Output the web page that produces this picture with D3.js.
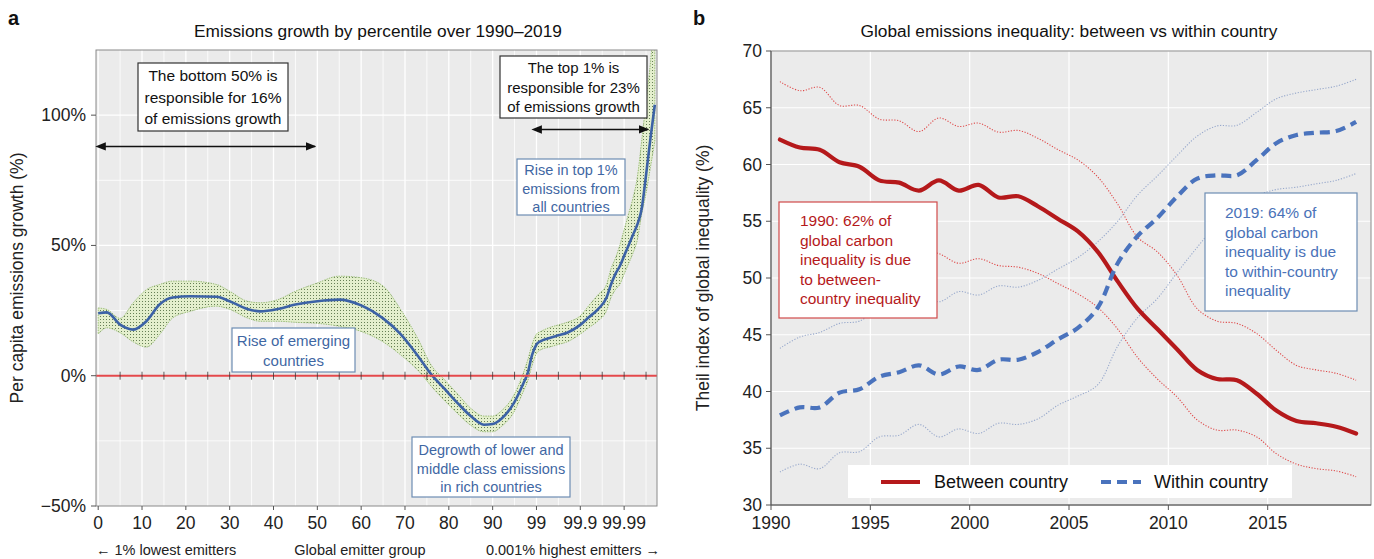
<!DOCTYPE html>
<html><head><meta charset="utf-8">
<script src="https://cdn.jsdelivr.net/npm/d3@7"></script>
<style>
body{margin:0;background:#fff;}
text{font-family:"Liberation Sans",Arial,sans-serif;}
</style></head>
<body><svg id="chart" width="1374" height="559"></svg>
<script>
// ---------- Panel a data ----------
const pctIndex   = [0,2,5,8,11,14,17,21,27,30,34,37,41,45,50,55,60,65,69,73,76,79,82,85,88,90,92,95,97,98,99,100,101,103,105,107,110,112,114,116,117,118,119,120,121,122,123,124,125,126,127];
const growth     = [24,24.3,19.6,17.7,20.9,27.3,30,30.5,30.3,28.6,25.6,24.7,25.6,27.3,28.6,29.2,27,22,16,7.5,0.5,-5,-10.5,-15.5,-18.8,-18.5,-16.5,-10,-3,1,8,12,13.3,14.5,15.5,16.5,19.5,22.5,25.5,30,35,39,42,46,50,54,58,64,77,91,104];
const growthHigh = [26,25.4,22,28,33,35,36.3,36.3,35,32.4,28.6,28,29.2,32.4,35.6,38.2,37.6,34.4,25.4,14,4,-1.5,-7,-12.5,-15.5,-15.5,-13.5,-7,1,6,12,16,17,18.5,19.5,20.5,23,27,31,35,41,45,50,56,62,68,76,90,105,120,140];
const growthLow  = [16,18.4,16.5,13,11,15.8,22.2,24.7,26.7,25.5,22.2,20.9,20.9,20.5,20.1,19,17,13,8,2,-4,-9.5,-14.5,-19,-21.5,-21.5,-19.5,-13.5,-6,-2,4,8.5,10,11,12,13,16,18.5,21,25,30,33,35,39,43,47,52,62,70,80,90];
const xTickIndex  = [0,10,20,30,40,50,60,70,80,90,100,110,120];
const xTickLabels = ["0","10","20","30","40","50","60","70","80","90","99","99.9","99.99"];
const yTicksA = [100,50,0,-50];

// ---------- Panel b data ----------
const years = d3.range(1990, 2020);
const betweenCountry = [62.2,61.5,61.3,60.2,59.8,58.6,58.4,57.7,58.6,57.7,58.2,57.1,57.2,56.3,55.2,54.1,52.3,49.7,47.3,45.5,43.7,41.9,41.1,41.0,39.8,38.3,37.4,37.2,36.9,36.3];
const betweenHigh    = [67.3,66.5,66.8,65.2,65.2,64.0,63.85,62.9,64.1,63.35,63.65,62.85,63.0,62.3,61.3,60.4,58.9,56.5,53.6,52.3,50.2,47.3,46.2,46.0,45.1,43.6,42.3,41.9,41.6,41.0];
const betweenLow     = [56.3,55.9,55.5,55.0,54.4,53.2,52.9,52.5,52.15,51.3,51.7,51.1,50.95,50.4,49.5,48.6,47.4,45.5,43.0,41.1,39.5,37.5,36.6,36.6,36.0,34.5,33.6,33.2,33.0,32.5];
const withinCountry  = [37.9,38.6,38.6,39.9,40.2,41.3,41.7,42.3,41.5,42.2,41.9,42.8,42.8,43.5,44.6,45.6,47.4,51.3,53.7,55.3,57.2,58.75,59.05,59.05,60.4,61.9,62.6,62.8,62.95,63.75];
const withinHigh     = [43.8,44.8,45.2,46.0,46.2,47.4,48.0,48.6,47.9,48.8,48.5,49.3,49.2,49.8,50.8,51.8,53.2,55.0,57.3,59.0,60.8,62.5,63.4,63.45,64.6,65.8,66.3,66.6,66.9,67.5];
const withinLow      = [32.9,33.6,33.2,34.6,34.7,36.0,36.15,37.1,36.0,36.7,36.3,37.2,37.1,37.6,38.8,39.6,40.6,44.0,46.5,48.2,50.5,52.7,54.8,56.7,57.3,57.8,58.0,58.3,58.6,59.2];
const yTicksB = [30,35,40,45,50,55,60,65,70];
const xTicksB = [1990,1995,2000,2005,2010,2015];

const svg = d3.select("#chart");
const defs = svg.append("defs");

// dotted pattern for the band
const pat = defs.append("pattern").attr("id","dots").attr("width",3).attr("height",3).attr("patternUnits","userSpaceOnUse");
pat.append("rect").attr("width",3).attr("height",3).attr("fill","#e4efcd");
pat.append("rect").attr("x",1).attr("y",1).attr("width",1).attr("height",1).attr("fill","#667f56");

// arrowheads
["s","e"].forEach(k=>{
  defs.append("marker").attr("id","arr"+k).attr("viewBox","0 0 10 10").attr("refX",k==="e"?9:1).attr("refY",5)
    .attr("markerWidth",7).attr("markerHeight",7).attr("orient",k==="e"?"auto":"auto-start-reverse")
    .append("path").attr("d","M0,1 L10,5 L0,9 Z").attr("fill","#111");
});

// ================= PANEL A =================
const xA = d3.scaleLinear().domain([-0.5,127.5]).range([96,657]);
const yA = d3.scaleLinear().domain([-50,125]).range([506,50]);
const gA = svg.append("g");

defs.append("clipPath").attr("id","clipA").append("rect")
  .attr("x",xA.range()[0]).attr("y",yA.range()[1]).attr("width",xA.range()[1]-xA.range()[0]).attr("height",yA.range()[0]-yA.range()[1]);

gA.append("rect").attr("x",96).attr("y",50).attr("width",561).attr("height",456).attr("fill","#ebebeb");
// grid
d3.range(0,128,5).forEach(v=>{
  gA.append("line").attr("x1",xA(v)).attr("x2",xA(v)).attr("y1",50).attr("y2",506)
    .attr("stroke","#fff").attr("stroke-width",v%10===0?1.3:0.8);
});
[-25,25,75,100,50,0].forEach(v=>{
  gA.append("line").attr("x1",96).attr("x2",657).attr("y1",yA(v)).attr("y2",yA(v))
    .attr("stroke","#fff").attr("stroke-width",[100,50,0].includes(v)?1.3:0.8);
});

const ptsA = pctIndex.map((d,i)=>({x:d,y:growth[i],lo:growthLow[i],hi:growthHigh[i]}));
const plotA = gA.append("g").attr("clip-path","url(#clipA)");
plotA.append("path").datum(ptsA)
  .attr("d",d3.area().x(d=>xA(d.x)).y0(d=>yA(d.lo)).y1(d=>yA(d.hi)).curve(d3.curveMonotoneX))
  .attr("fill","url(#dots)").attr("stroke","#93b86c").attr("stroke-width",0.9).attr("stroke-dasharray","1.5,1");

// zero line
gA.append("line").attr("x1",96).attr("x2",657).attr("y1",yA(0)).attr("y2",yA(0)).attr("stroke","#e4484b").attr("stroke-width",2);
d3.range(5,127,5).forEach(v=>{
  gA.append("line").attr("x1",xA(v)).attr("x2",xA(v)).attr("y1",yA(0)-4).attr("y2",yA(0)+4).attr("stroke","#333").attr("stroke-width",0.8);
});

plotA.append("path").datum(ptsA)
  .attr("d",d3.line().x(d=>xA(d.x)).y(d=>yA(d.y)).curve(d3.curveMonotoneX))
  .attr("fill","none").attr("stroke","#3c62a6").attr("stroke-width",2.6);

gA.append("rect").attr("x",96).attr("y",50).attr("width",561).attr("height",456).attr("fill","none").attr("stroke","#8a8a8a").attr("stroke-width",1);

// axes ticks
yTicksA.forEach(v=>{
  gA.append("line").attr("x1",91).attr("x2",96).attr("y1",yA(v)).attr("y2",yA(v)).attr("stroke","#555");
  gA.append("text").attr("x",86).attr("y",yA(v)+6).attr("text-anchor","end").attr("font-size",17.5).attr("fill","#222")
    .text(v<0?"\u2212"+Math.abs(v)+"%":v+"%");
});
xTickIndex.forEach((v,i)=>{
  gA.append("line").attr("x1",xA(v)).attr("x2",xA(v)).attr("y1",506).attr("y2",510).attr("stroke","#555");
  gA.append("text").attr("x",xA(v)).attr("y",529).attr("text-anchor","middle").attr("font-size",17.5).attr("fill","#222").text(xTickLabels[i]);
});
gA.append("text").attr("x",96).attr("y",555).attr("font-size",14.5).attr("fill","#222").text("\u2190 1% lowest emitters");
gA.append("text").attr("x",360).attr("y",555).attr("text-anchor","middle").attr("font-size",14.5).attr("fill","#222").text("Global emitter group");
gA.append("text").attr("x",660).attr("y",555).attr("text-anchor","end").attr("font-size",14.5).attr("fill","#222").text("0.001% highest emitters  \u2192");
gA.append("text").attr("transform","translate(23,278) rotate(-90)").attr("text-anchor","middle").attr("font-size",17.5).attr("fill","#222").text("Per capita emissions growth (%)");
gA.append("text").attr("x",378).attr("y",37).attr("text-anchor","middle").attr("font-size",17.3).attr("fill","#111").text("Emissions growth by percentile over 1990\u20132019");
svg.append("text").attr("x",8).attr("y",25).attr("font-size",20).attr("font-weight","bold").attr("font-family","Liberation Sans Narrow, Arial Narrow, sans-serif").attr("fill","#111").text("a");

function box(g,x,y,w,h,lines,opts){
  g.append("rect").attr("x",x).attr("y",y).attr("width",w).attr("height",h).attr("fill","#fff")
    .attr("stroke",opts.stroke).attr("stroke-width",opts.sw||1.2);
  lines.forEach((t,i)=>{
    g.append("text").attr("x",opts.anchor==="start"?x+opts.pad:x+w/2).attr("y",y+opts.first+i*opts.lh)
      .attr("text-anchor",opts.anchor||"middle").attr("font-size",opts.fs).attr("fill",opts.color).text(t);
  });
}
box(gA,138,63,150,68,["The bottom 50% is","responsible for 16%","of emissions growth"],{stroke:"#333",color:"#111",fs:15.5,first:18,lh:21.5});
box(gA,500,56,147,62,["The top 1% is","responsible for 23%","of  emissions growth"],{stroke:"#333",color:"#111",fs:15,first:17,lh:19.5});
box(gA,517,159,108,56,["Rise in top 1%","emissions from","all countries"],{stroke:"#6d8db3",color:"#3f67a3",fs:14.5,first:16,lh:18.5});
box(gA,232,328,123,44,["Rise of emerging","countries"],{stroke:"#6d8db3",color:"#3f67a3",fs:15,first:18,lh:20});
box(gA,412,437,158,60,["Degrowth of lower and","middle class emissions","in rich countries"],{stroke:"#6d8db3",color:"#3f67a3",fs:14.5,first:18,lh:18.5});

gA.append("line").attr("x1",xA(1.5)).attr("x2",xA(49.5)).attr("y1",yA(88)).attr("y2",yA(88))
  .attr("stroke","#111").attr("stroke-width",1.5).attr("marker-start","url(#arrs)").attr("marker-end","url(#arre)");
gA.append("line").attr("x1",xA(101)).attr("x2",xA(125.5)).attr("y1",yA(94.5)).attr("y2",yA(94.5))
  .attr("stroke","#111").attr("stroke-width",1.5).attr("marker-start","url(#arrs)").attr("marker-end","url(#arre)");

// ================= PANEL B =================
const xB = d3.scaleLinear().domain([1990,2020.2]).range([771,1371]);
const yB = d3.scaleLinear().domain([30,70]).range([505,51]);
const gB = svg.append("g");
const midYear = 0.45;

gB.append("rect").attr("x",771).attr("y",51).attr("width",600).attr("height",454).attr("fill","#ebebeb");
xTicksB.forEach(v=>gB.append("line").attr("x1",xB(v)).attr("x2",xB(v)).attr("y1",51).attr("y2",505).attr("stroke","#fff").attr("stroke-width",1.2));
yTicksB.forEach(v=>gB.append("line").attr("x1",771).attr("x2",1371).attr("y1",yB(v)).attr("y2",yB(v)).attr("stroke","#fff").attr("stroke-width",1.2));

const lineB = d3.line().x(d=>xB(d[0]+midYear)).y(d=>yB(d[1])).curve(d3.curveCatmullRom);
function ser(arr){return years.map((y,i)=>[y,arr[i]]);}

[betweenHigh,betweenLow].forEach(a=>gB.append("path").datum(ser(a)).attr("d",lineB).attr("fill","none")
  .attr("stroke","#df4a4a").attr("stroke-width",1.1).attr("stroke-dasharray","1.2,1.6"));
[withinHigh,withinLow].forEach(a=>gB.append("path").datum(ser(a)).attr("d",lineB).attr("fill","none")
  .attr("stroke","#98a9cc").attr("stroke-width",1.1).attr("stroke-dasharray","1.2,1.6"));

// annotation boxes (drawn before main lines)
box(gB,779,202,158,116,["1990: 62% of","global carbon","inequality is due","to between-","country inequality"],{stroke:"#d04a4a",color:"#b5191b",fs:15.5,first:24,lh:19.5,anchor:"start",pad:21});
box(gB,1205,193,152,118,["2019: 64% of","global carbon","inequality is due","to within-country","inequality"],{stroke:"#6d8db3",color:"#4a72b8",fs:15.5,first:25,lh:19.5,anchor:"start",pad:20});

gB.append("path").datum(ser(betweenCountry)).attr("d",lineB).attr("fill","none").attr("stroke","#b5191b").attr("stroke-width",4.2).attr("stroke-linecap","round");
gB.append("path").datum(ser(withinCountry)).attr("d",lineB).attr("fill","none").attr("stroke","#4a73bd").attr("stroke-width",4.2).attr("stroke-dasharray","10,6");

// border + axes
gB.append("rect").attr("x",771).attr("y",51).attr("width",600).attr("height",454).attr("fill","none").attr("stroke","#8a8a8a");
gB.append("line").attr("x1",771).attr("x2",771).attr("y1",51).attr("y2",505).attr("stroke","#555");
gB.append("line").attr("x1",771).attr("x2",1371).attr("y1",505).attr("y2",505).attr("stroke","#555");
yTicksB.forEach(v=>{
  gB.append("line").attr("x1",766).attr("x2",771).attr("y1",yB(v)).attr("y2",yB(v)).attr("stroke","#555");
  gB.append("text").attr("x",762).attr("y",yB(v)+6).attr("text-anchor","end").attr("font-size",17.5).attr("fill","#222").text(v);
});
xTicksB.forEach(v=>{
  gB.append("line").attr("x1",xB(v)).attr("x2",xB(v)).attr("y1",505).attr("y2",510).attr("stroke","#555");
  gB.append("text").attr("x",xB(v)).attr("y",529).attr("text-anchor","middle").attr("font-size",17.5).attr("fill","#222").text(v);
});
gB.append("text").attr("transform","translate(709,278) rotate(-90)").attr("text-anchor","middle").attr("font-size",17.5).attr("fill","#222").text("Theil index of global inequality (%)");
gB.append("text").attr("x",1069).attr("y",37).attr("text-anchor","middle").attr("font-size",17.3).attr("fill","#111").text("Global emissions inequality: between vs within country");
svg.append("text").attr("x",693).attr("y",25).attr("font-size",20).attr("font-weight","bold").attr("font-family","Liberation Sans Narrow, Arial Narrow, sans-serif").attr("fill","#111").text("b");

// legend
const lg = gB.append("g");
lg.append("rect").attr("x",848).attr("y",465).attr("width",444).attr("height",33).attr("fill","#fff");
lg.append("line").attr("x1",881).attr("x2",920).attr("y1",482).attr("y2",482).attr("stroke","#b5191b").attr("stroke-width",4.2);
lg.append("text").attr("x",934).attr("y",488).attr("font-size",18).attr("fill","#111").text("Between country");
lg.append("line").attr("x1",1101).attr("x2",1141).attr("y1",482).attr("y2",482).attr("stroke","#4a73bd").attr("stroke-width",4.2).attr("stroke-dasharray","10,6");
lg.append("text").attr("x",1154).attr("y",488).attr("font-size",18).attr("fill","#111").text("Within country");
</script></body></html>
